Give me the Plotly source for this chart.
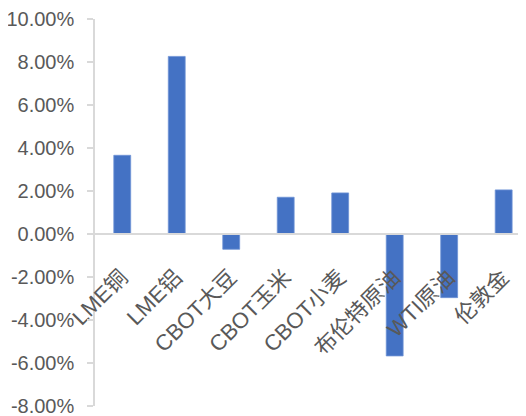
import plotly.graph_objects as go

categories = ["LME铜", "LME铝", "CBOT大豆", "CBOT玉米", "CBOT小麦", "布伦特原油", "WTI原油", "伦敦金"]
values = [3.66, 8.26, -0.71, 1.71, 1.91, -5.67, -2.96, 2.05]
y_ticks = [-8, -6, -4, -2, 0, 2, 4, 6, 8, 10]
y_tick_labels = ["-8.00%", "-6.00%", "-4.00%", "-2.00%", "0.00%", "2.00%", "4.00%", "6.00%", "8.00%", "10.00%"]

FONT = "Liberation Sans, Arial, Noto Sans CJK SC, sans-serif"
GRAY = "#595959"
LINE = "#D9D9D9"

fig = go.Figure()
fig.add_trace(go.Bar(
    x=categories, y=values,
    marker=dict(color="#4472C4", line=dict(color="#6F93D6", width=0.8)),
    width=0.31,
))

ymin, ymax = -8, 10
zero_pos = (0 - ymin) / (ymax - ymin)

# page body has an 8px margin; figure sized to fill the rest of the window
fig.update_layout(
    width=518, height=408, autosize=False,
    margin=dict(l=87, r=0, t=11, b=10),
    plot_bgcolor="white", paper_bgcolor="white",
    showlegend=False,
    font=dict(family=FONT, size=20, color=GRAY),
    xaxis=dict(
        type="category", range=[-0.5, 7.41],
        anchor="free", position=zero_pos,
        showline=True, linecolor=LINE, linewidth=1.5,
        ticks="", tickangle=-45, showgrid=False, zeroline=False,
        ticklabelstandoff=21, ticklabelshift=-1,
        tickfont=dict(family=FONT, size=22, color=GRAY),
        automargin=False,
    ),
    yaxis=dict(
        range=[ymin, ymax], tickvals=y_ticks, ticktext=y_tick_labels,
        showline=True, linecolor=LINE, linewidth=1.5,
        ticks="outside", ticklen=6, tickcolor=LINE, tickwidth=1.5,
        showgrid=False, zeroline=False,
        ticklabelstandoff=9, ticklabeloverflow="allow",
        tickfont=dict(family=FONT, size=20, color=GRAY),
        automargin=False,
    ),
)

fig.write_html("out.html")
